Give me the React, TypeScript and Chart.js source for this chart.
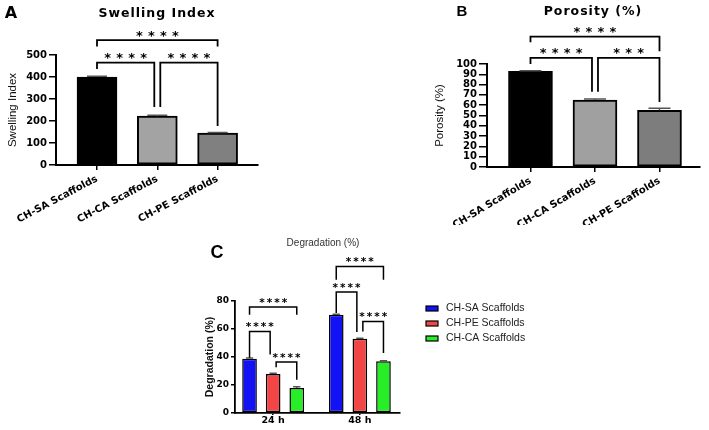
import React, { useEffect, useRef } from 'react';
import { Chart, registerables } from 'chart.js';

Chart.register(...registerables);

// panels A and B
const scaffoldLabels = ['CH-SA Scaffolds', 'CH-CA Scaffolds', 'CH-PE Scaffolds'];
const swellingIndex = [400, 222, 145];
const swellingSd = [3, 4, 3];
const porosity = [93, 65, 55];
const porositySd = [0.5, 1, 2];

// panel C
const timeLabels = ['24 h', '48 h'];
const degradationNames = ['CH-SA Scaffolds', 'CH-PE Scaffolds', 'CH-CA Scaffolds'];
const degradationSA = [38.8, 70.2];
const degradationPE = [27.9, 53];
const degradationCA = [17.9, 36.9];
const degradationSASd = [0.4, 0.3];
const degradationPESd = [0.5, 0.4];
const degradationCASd = [0.8, 0.5];

// significance brackets: ends are [dataset, index], heights in axis units
type Bracket = { a: number[]; b: number[]; y: number; ya: number; yb: number; stars: number };
const swellingBrackets: Bracket[] = [
  { a: [0, 0], b: [0, 2], y: 568, ya: 539, yb: 539, stars: 4 },
  { a: [0, 0], b: [0, 1], y: 465, ya: 436, yb: 264, stars: 4 },
  { a: [0, 1], b: [0, 2], y: 465, ya: 264, yb: 177, stars: 4 },
];
const porosityBrackets: Bracket[] = [
  { a: [0, 0], b: [0, 2], y: 126.5, ya: 121, yb: 112.5, stars: 4 },
  { a: [0, 0], b: [0, 1], y: 106, ya: 100, yb: 73, stars: 4 },
  { a: [0, 1], b: [0, 2], y: 106, ya: 73, yb: 63, stars: 3 },
];
const degradationBrackets: Bracket[] = [
  { a: [0, 0], b: [2, 0], y: 75.7, ya: 70.2, yb: 70.2, stars: 4 },
  { a: [0, 0], b: [1, 0], y: 58.3, ya: 39.5, yb: 41.7, stars: 4 },
  { a: [1, 0], b: [2, 0], y: 36.4, ya: 32.6, yb: 23.8, stars: 4 },
  { a: [0, 1], b: [2, 1], y: 104.7, ya: 95.2, yb: 95.2, stars: 4 },
  { a: [0, 1], b: [1, 1], y: 86.4, ya: 71.4, yb: 57.9, stars: 4 },
  { a: [1, 1], b: [2, 1], y: 65.4, ya: 58.3, yb: 42.9, stars: 4 },
];

const WIDE = "'DejaVu Sans', sans-serif";
const ARIAL = "'Liberation Sans', Arial, sans-serif";
const NARROW = "'Liberation Sans Narrow', 'Liberation Sans', sans-serif";

const sigPlugin = (errors: number[][], brackets: Bracket[], st: { line: number; font: string; pitch: number; lift: number }) => ({
  id: 'sig',
  afterDatasetsDraw(chart: any) {
    const ctx = chart.ctx;
    const ys = chart.scales.y;
    const barAt = (p: number[]) => chart.getDatasetMeta(p[0]).data[p[1]];
    const key = (p: number[]) => p.join(':');
    ctx.save();
    // error bars (upper SD only)
    ctx.strokeStyle = '#555';
    ctx.lineWidth = 1.5;
    errors.forEach((errs, di) => {
      chart.getDatasetMeta(di).data.forEach((bar: any, i: number) => {
        const v = chart.data.datasets[di].data[i].y;
        const top = ys.getPixelForValue(v + errs[i]);
        const half = bar.width / 4;
        ctx.beginPath();
        ctx.moveTo(bar.x, ys.getPixelForValue(v));
        ctx.lineTo(bar.x, top);
        ctx.moveTo(bar.x - half, top);
        ctx.lineTo(bar.x + half, top);
        ctx.stroke();
      });
    });
    ctx.strokeStyle = '#000';
    ctx.fillStyle = '#000';
    ctx.lineWidth = st.line;
    ctx.lineJoin = 'miter';
    ctx.font = st.font;
    ctx.textAlign = 'center';
    ctx.textBaseline = 'alphabetic';
    brackets.forEach((br) => {
      const shiftA = brackets.some((o) => o !== br && key(o.b) === key(br.a)) ? 3 : 0;
      const shiftB = brackets.some((o) => o !== br && key(o.a) === key(br.b)) ? -3 : 0;
      const xa = barAt(br.a).x + shiftA;
      const xb = barAt(br.b).x + shiftB;
      const py = ys.getPixelForValue(br.y);
      ctx.beginPath();
      ctx.moveTo(xa, ys.getPixelForValue(br.ya));
      ctx.lineTo(xa, py);
      ctx.lineTo(xb, py);
      ctx.lineTo(xb, ys.getPixelForValue(br.yb));
      ctx.stroke();
      const mid = (xa + xb) / 2;
      for (let k = 0; k < br.stars; k++) {
        ctx.fillText('*', mid + (k - (br.stars - 1) / 2) * st.pitch, py - st.lift);
      }
    });
    ctx.restore();
  },
});

const legendPlugin = {
  id: 'sideLegend',
  afterDraw(chart: any) {
    const { ctx, chartArea } = chart;
    ctx.save();
    ctx.font = `10.5px ${ARIAL}`;
    ctx.textBaseline = 'middle';
    ctx.textAlign = 'left';
    chart.data.datasets.forEach((ds: any, i: number) => {
      const y = chartArea.top + 7.5 + i * 15;
      const x = chartArea.right + 26;
      ctx.fillStyle = ds.backgroundColor;
      ctx.fillRect(x, y - 2.5, 12, 5);
      ctx.strokeStyle = '#000';
      ctx.lineWidth = 1.2;
      ctx.strokeRect(x, y - 2.5, 12, 5);
      ctx.fillStyle = '#222';
      ctx.fillText(ds.label, x + 20, y);
    });
    ctx.restore();
  },
};

type Geom = {
  top: number; right: number; yWidth: number; xHeight: number; min: number; max: number;
  bar: number; yTick: number; rotation: number; titlePad: number;
};

function scaffoldConfig(values: number[], sd: number[], colors: string[], yMax: number, step: number,
  yTitle: string, brackets: Bracket[], g: Geom): any {
  return {
    type: 'bar',
    data: {
      datasets: [{
        data: values.map((v, i) => ({ x: i + 1, y: v })),
        backgroundColor: colors,
        borderColor: '#000',
        borderWidth: 2,
        borderSkipped: false,
        barThickness: g.bar,
      }],
    },
    options: {
      animation: false,
      responsive: true,
      maintainAspectRatio: false,
      layout: { padding: { top: g.top, right: g.right, left: 0, bottom: 0 } },
      plugins: { legend: { display: false }, tooltip: { enabled: false } },
      scales: {
        x: {
          type: 'linear', min: g.min, max: g.max, offset: false,
          afterBuildTicks: (axis: any) => { axis.ticks = values.map((_, i) => ({ value: i + 1 })); },
          afterFit: (axis: any) => { axis.height = g.xHeight; },
          grid: { offset: false, drawOnChartArea: false, tickLength: 5, color: '#000', lineWidth: 1.5 },
          border: { display: true, color: '#000', width: 2 },
          ticks: {
            autoSkip: false, minRotation: g.rotation, maxRotation: g.rotation, color: '#000',
            font: { family: WIDE, weight: 'bold', size: 10 },
            callback: (_v: any, i: number) => scaffoldLabels[i],
          },
        },
        y: {
          min: 0, max: yMax,
          afterFit: (axis: any) => { axis.width = g.yWidth; },
          grid: { drawOnChartArea: false, tickLength: g.yTick, color: '#000', lineWidth: 1.5 },
          border: { display: true, color: '#000', width: 2 },
          ticks: { stepSize: step, autoSkip: false, padding: 2, color: '#000', font: { family: WIDE, weight: 'bold', size: 10, lineHeight: 1 } },
          title: { display: true, text: yTitle, color: '#111', font: { family: NARROW, size: 11.5 }, padding: { top: g.titlePad, bottom: 0 } },
        },
      },
    },
    plugins: [sigPlugin([sd], brackets, { line: 1.8, font: `bold 13px ${WIDE}`, pitch: 12, lift: 0.5 })],
  };
}

function degradationConfig(): any {
  const series = [degradationSA, degradationPE, degradationCA];
  const colors = ['#1212f5', '#f24646', '#28ee28'];
  return {
    type: 'bar',
    data: {
      datasets: series.map((vals, si) => ({
        label: degradationNames[si],
        data: vals.map((v, i) => ({ x: i, y: v })),
        backgroundColor: colors[si],
        borderColor: '#000',
        borderWidth: 1.5,
        borderSkipped: false,
        categoryPercentage: 0.817,
        barPercentage: 0.62,
      })),
    },
    options: {
      animation: false,
      responsive: true,
      maintainAspectRatio: false,
      layout: { padding: { top: 71, right: 160, left: 0, bottom: 0 } },
      plugins: { legend: { display: false }, tooltip: { enabled: false } },
      scales: {
        x: {
          type: 'linear', min: -0.44, max: 1.463, offset: false,
          afterBuildTicks: (axis: any) => { axis.ticks = timeLabels.map((_, i) => ({ value: i })); },
          afterFit: (axis: any) => { axis.height = 17; },
          grid: { offset: false, drawOnChartArea: false, tickLength: 2, color: '#000', lineWidth: 1.5 },
          border: { display: true, color: '#000', width: 1.8 },
          ticks: {
            autoSkip: false, maxRotation: 0, padding: 1, color: '#000',
            font: { family: WIDE, weight: 'bold', size: 9.5, lineHeight: 1 },
            callback: (_v: any, i: number) => timeLabels[i],
          },
        },
        y: {
          min: 0, max: 80,
          afterFit: (axis: any) => { axis.width = 55; },
          grid: { drawOnChartArea: false, tickLength: 4, color: '#000', lineWidth: 1.5 },
          border: { display: true, color: '#000', width: 1.8 },
          ticks: { stepSize: 20, padding: 2, color: '#000', font: { family: WIDE, weight: 'bold', size: 9, lineHeight: 1 } },
          title: { display: true, text: 'Degradation (%)', color: '#111', font: { family: NARROW, weight: 'bold', size: 10.5 }, padding: { top: 24, bottom: 0 } },
        },
      },
    },
    plugins: [
      sigPlugin([degradationSASd, degradationPESd, degradationCASd], degradationBrackets, { line: 1.5, font: `bold 10.5px ${WIDE}`, pitch: 7.5, lift: 1.2 }),
      legendPlugin,
    ],
  };
}

function Panel({ make, box }: { make: () => any; box: { left: number; top: number; width: number; height: number } }) {
  const ref = useRef<HTMLCanvasElement | null>(null);
  useEffect(() => {
    if (!ref.current) return;
    const chart = new Chart(ref.current, make());
    return () => chart.destroy();
  }, []);
  return (
    <div style={{ position: 'absolute', ...box }}>
      <canvas ref={ref} />
    </div>
  );
}

function Label({ x, y, text, font, extra }: { x: number; y: number; text: string; font: string; extra?: any }) {
  return (
    <div style={{
      position: 'absolute', left: x, top: y, transform: 'translate(-50%, -50%)',
      font, lineHeight: 1, whiteSpace: 'nowrap', color: '#000', ...extra,
    }}>{text}</div>
  );
}

export default function App() {
  return (
    <div style={{ position: 'absolute', left: 0, top: 0, width: 709, height: 430, background: '#fff', overflow: 'hidden' }}>
      <Panel
        box={{ left: 0, top: 0, width: 270, height: 225 }}
        make={() => scaffoldConfig(swellingIndex, swellingSd, ['#000000', '#a3a3a3', '#808080'], 500, 100,
          'Swelling Index', swellingBrackets,
          { top: 55, right: 12, yWidth: 56, xHeight: 60, min: 0.32, max: 3.67, bar: 40, yTick: 7, rotation: 28, titlePad: 6 })}
      />
      <Panel
        box={{ left: 420, top: 0, width: 289, height: 225 }}
        make={() => scaffoldConfig(porosity, porositySd, ['#000000', '#a0a0a0', '#7d7d7d'], 100, 10,
          'Porosity (%)', porosityBrackets,
          { top: 64, right: 9, yWidth: 67, xHeight: 58, min: 0.326, max: 3.628, bar: 44, yTick: 8, rotation: 31, titlePad: 13 })}
      />
      <Panel box={{ left: 180, top: 230, width: 380, height: 200 }} make={degradationConfig} />
      <Label x={11} y={13} text="A" font={`bold 16px ${WIDE}`} />
      <Label x={157} y={13} text="Swelling Index" font={`bold 12.5px ${WIDE}`} extra={{ letterSpacing: '1px' }} />
      <Label x={462} y={10} text="B" font={`bold 15px ${ARIAL}`} />
      <Label x={593} y={11} text="Porosity (%)" font={`bold 12.5px ${WIDE}`} extra={{ letterSpacing: '1px' }} />
      <Label x={217} y={252} text="C" font={`bold 18px ${NARROW}`} />
      <Label x={323} y={243} text="Degradation (%)" font={`10px ${ARIAL}`} extra={{ color: '#333' }} />
    </div>
  );
}
